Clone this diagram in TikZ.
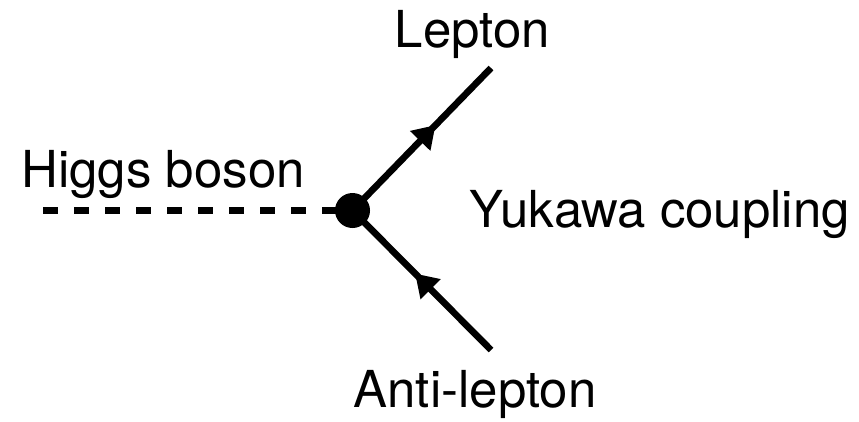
\documentclass[tikz,border=0pt]{standalone}
\usepackage{fontspec}
\setmainfont{TeX Gyre Heros}
\usepackage{tikz}
\usetikzlibrary{positioning, calc}
\usetikzlibrary{arrows.meta, decorations.markings}

\tikzset{
  fermion/.style={line width=3.8pt, postaction={decorate},
    decoration={markings, mark=at position #1 with {\arrow{Triangle[length=0.44cm,width=0.54cm]}}}},
  scalar/.style={line width=4.2pt, dash pattern=on 0.30cm off 0.32cm},
  label/.style={inner sep=0pt, anchor=base, font=\fontsize{29}{35}\selectfont}
}

\begin{document}
\begin{tikzpicture}[semithick]
\useasboundingbox (0,0) rectangle (17.18,8.42);

\node[circle, fill, inner sep=0pt, minimum size=0.7cm] (V) at (7.05,4.21) {};
\coordinate (H) at (0.86,4.21);
\coordinate (L) at (9.82,7.06);
\coordinate (A) at (9.82,1.42);

\node[label] (lepton) at (9.45,7.48) {Lepton};
\node[label, anchor=base west] (higgs) at (0.42,4.68) {Higgs boson};
\node[label, anchor=base west] (yukawa) at (9.38,3.88) {Yukawa coupling};
\node[label] (antilepton) at (9.50,0.28) {Anti-lepton};

\draw[scalar] (H) -- (V.center);
\draw[fermion=0.6] (V.center) -- (L);
\draw[fermion=0.55] (A) -- (V.center);
\end{tikzpicture}
\end{document}
